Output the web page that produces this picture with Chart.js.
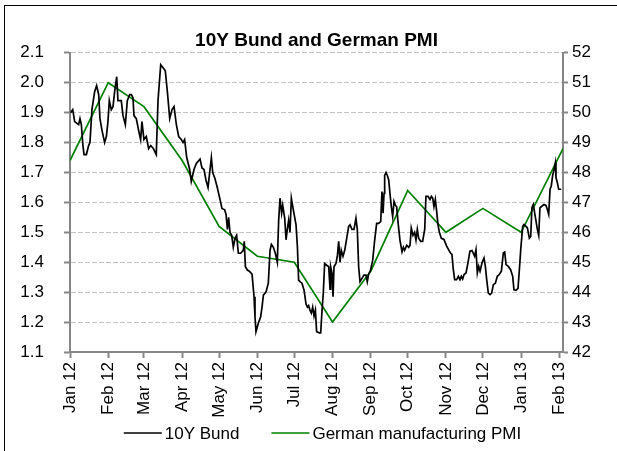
<!DOCTYPE html>
<html>
<head>
<meta charset="utf-8">
<script src="https://cdn.jsdelivr.net/npm/chart.js@4/dist/chart.umd.min.js"></script>
<style>
  html, body { margin: 0; padding: 0; background: #fff; }
  #wrap { position: relative; width: 617px; height: 451px; overflow: hidden; }
  #frame { position: absolute; left: 4px; top: 5px; width: 700px; height: 600px; border: 1px solid #000; }
  #chart { position: absolute; left: 0; top: 0; }
</style>
</head>
<body>
<div id="wrap">
  <div id="frame"></div>
  <canvas id="chart" width="617" height="451"></canvas>
</div>
<script>
// x values are days counted from 1 Jan 2012
const monthDays = [0, 31, 60, 91, 121, 152, 182, 213, 244, 274, 305, 335, 366, 397];
const monthLabels = ['Jan 12', 'Feb 12', 'Mar 12', 'Apr 12', 'May 12', 'Jun 12', 'Jul 12',
  'Aug 12', 'Sep 12', 'Oct 12', 'Nov 12', 'Dec 12', 'Jan 13', 'Feb 13'];

// German manufacturing PMI (right axis)
const pmiDays = [0, 31, 60, 91, 121, 152, 182, 213, 244, 274, 305, 335, 366, 400];
const pmiValues = [48.4, 51.0, 50.2, 48.4, 46.2, 45.2, 45.0, 43.0, 44.7, 47.4, 46.0, 46.8, 46.0, 48.8];

// 10Y Bund yield (left axis)
const bundDays = [
  0.5, 2.2, 3.8, 7.0, 8.1, 9.2, 10.5, 11.4, 13.3, 15.1, 16.2, 17.8, 20.0, 21.6, 23.3, 24.3,
  26.0, 28.1, 29.5, 30.8, 31.9, 33.5, 34.9, 36.2, 37.9, 38.9, 41.6, 43.0, 44.9, 46.5, 48.4,
  49.8, 51.1, 51.9, 53.8, 55.7, 57.3, 58.4, 60.0, 61.9, 63.8, 65.5, 67.6, 70.0, 71.4, 73.6,
  75.5, 77.3, 79.0, 80.9, 82.8, 84.4, 86.3, 88.2, 90.3, 91.7, 93.0, 94.7, 97.1, 98.4, 100.6,
  102.5, 105.5, 107.1, 108.7, 110.3, 112.0, 113.6, 114.7, 115.8, 117.6, 119.5, 121.7, 123.3,
  125.5, 126.6, 127.7, 128.7, 129.8, 131.2, 132.5, 133.9, 135.2, 136.6, 138.5, 140.6, 141.4,
  142.3, 143.9, 145.5, 147.7, 149.3, 150.1, 150.9, 152.8, 154.7, 155.8, 156.9, 159.0, 160.9,
  162.3, 163.4, 165.0, 166.6, 168.2, 169.3, 170.4, 171.7, 172.6, 174.2, 175.3, 176.3, 177.4,
  178.5, 179.6, 181.2, 183.4, 184.5, 185.5, 186.6, 188.2, 189.9, 191.5, 192.6, 193.6, 194.7,
  195.8, 196.9, 198.0, 199.1, 200.1, 202.3, 203.4, 204.5, 205.5, 206.6, 208.3, 209.9, 211.0,
  211.5, 212.6, 213.4, 214.2, 215.8, 216.9, 218.0, 219.1, 220.1, 221.5, 222.9, 224.5, 226.1,
  227.2, 228.8, 230.4, 232.0, 233.1, 234.2, 235.3, 236.9, 238.5, 240.2, 241.2, 242.3, 243.9,
  245.6, 247.2, 248.8, 250.4, 252.1, 253.1, 254.0, 254.8, 255.3, 256.4, 257.5, 258.6, 259.6,
  260.7, 261.8, 262.9, 264.0, 265.0, 266.1, 267.7, 269.4, 270.5, 271.5, 273.2, 274.8, 275.9,
  276.9, 278.3, 279.6, 280.7, 281.8, 282.9, 284.5, 286.1, 287.8, 288.8, 290.5, 292.1, 293.2,
  294.3, 295.3, 296.4, 297.5, 298.6, 299.7, 301.3, 303.4, 305.6, 307.8, 308.9, 309.9, 311.0,
  312.1, 313.7, 315.1, 316.4, 317.5, 318.6, 319.7, 321.3, 322.9, 324.5, 326.2, 327.2, 328.3,
  329.4, 330.5, 331.6, 332.7, 334.3, 335.9, 337.0, 338.1, 339.4, 340.8, 342.1, 343.5, 345.1,
  346.7, 348.3, 350.0, 351.6, 352.7, 353.8, 355.6, 357.5, 359.2, 360.2, 361.9, 363.5, 364.6,
  365.7, 367.3, 368.4, 370.0, 371.1, 372.7, 373.8, 374.8, 375.9, 377.6, 379.2, 380.3, 381.3,
  383.0, 384.6, 386.2, 387.3, 388.4, 389.5, 390.5, 391.6, 392.7, 393.8, 394.3, 395.4, 396.5,
  398.6
];
const bundYield = [
  1.90, 1.91, 1.87, 1.86, 1.88, 1.86, 1.79, 1.76, 1.76, 1.79, 1.80, 1.91, 1.97, 1.99, 1.96, 1.88,
  1.84, 1.80, 1.82, 1.87, 1.94, 1.91, 1.92, 1.97, 2.02, 1.94, 1.94, 1.89, 1.86, 1.94, 1.96,
  1.96, 1.95, 1.89, 1.88, 1.84, 1.81, 1.87, 1.81, 1.82, 1.78, 1.79, 1.78, 1.76, 1.94, 2.06,
  2.05, 2.04, 1.97, 1.88, 1.91, 1.92, 1.86, 1.82, 1.81, 1.80, 1.81, 1.75, 1.71, 1.67, 1.71,
  1.73, 1.745, 1.715, 1.71, 1.675, 1.65, 1.71, 1.75, 1.70, 1.68, 1.65, 1.61, 1.58,
  1.575, 1.56, 1.51, 1.55, 1.50, 1.49, 1.45, 1.48, 1.49, 1.43, 1.43, 1.44, 1.47,
  1.385, 1.374, 1.37, 1.36, 1.285, 1.218, 1.168, 1.196, 1.218, 1.25, 1.29, 1.30, 1.33,
  1.44, 1.46, 1.45, 1.43, 1.40, 1.54, 1.614, 1.564, 1.59, 1.547, 1.475, 1.51, 1.54,
  1.50, 1.614, 1.575, 1.525, 1.452, 1.34, 1.335, 1.33, 1.307, 1.26, 1.25, 1.255, 1.24,
  1.23, 1.25, 1.22, 1.24, 1.168, 1.164, 1.164, 1.24, 1.296, 1.396, 1.39, 1.385, 1.31,
  1.385, 1.363, 1.285, 1.385, 1.396, 1.42, 1.47, 1.40, 1.44, 1.42, 1.44, 1.48, 1.52,
  1.525, 1.51, 1.51, 1.547, 1.51, 1.385, 1.335, 1.346, 1.357, 1.357, 1.335, 1.36, 1.374,
  1.407, 1.474, 1.53, 1.53, 1.536, 1.636, 1.564, 1.63, 1.69, 1.70, 1.69, 1.675, 1.63,
  1.586, 1.553, 1.603, 1.59, 1.586, 1.536, 1.474, 1.435, 1.45, 1.44, 1.457, 1.45, 1.457,
  1.514, 1.49, 1.50, 1.474, 1.51, 1.48, 1.47, 1.47, 1.51, 1.62, 1.62, 1.61, 1.62,
  1.614, 1.586, 1.61, 1.57, 1.525, 1.50, 1.48, 1.476, 1.454, 1.437, 1.43, 1.426, 1.375,
  1.342, 1.342, 1.353, 1.342, 1.353, 1.344, 1.359, 1.364, 1.398, 1.437, 1.439, 1.43, 1.42,
  1.442, 1.364, 1.386, 1.37, 1.398, 1.414, 1.386, 1.342, 1.297, 1.292, 1.297, 1.325, 1.33,
  1.353, 1.359, 1.37, 1.431, 1.434, 1.392, 1.386, 1.375, 1.353, 1.308, 1.306, 1.313, 1.375,
  1.442, 1.52, 1.526, 1.52, 1.515, 1.48, 1.486, 1.582, 1.593, 1.55, 1.51, 1.49, 1.582,
  1.588, 1.593, 1.59, 1.576, 1.56, 1.644, 1.655, 1.69, 1.71, 1.733, 1.683, 1.666, 1.644,
  1.644
];

const AXIS = '#868686';
const FONT = "'Liberation Sans', Arial, sans-serif";

Chart.defaults.font.family = FONT;
Chart.defaults.color = '#000';

// legend drawn by hand: short line, text right next to it, wide gap between items
const lineLegend = {
  id: 'lineLegend',
  afterDraw(chart) {
    const { ctx, chartArea } = chart;
    const lineLen = 38, gap = 3, itemGap = 32;
    ctx.save();
    ctx.font = '17px ' + FONT;
    ctx.textBaseline = 'middle';
    const items = chart.data.datasets.map(ds => ({
      text: ds.label, color: ds.borderColor, width: ds.borderWidth,
      w: ctx.measureText(ds.label).width
    }));
    const total = items.reduce((s, it) => s + lineLen + gap + it.w, 0) + itemGap * (items.length - 1);
    let x = (chartArea.left + chartArea.right) / 2 + 6 - total / 2;
    const y = chartArea.bottom + 81;
    items.forEach(it => {
      ctx.strokeStyle = it.color;
      ctx.lineWidth = it.width;
      ctx.beginPath();
      ctx.moveTo(x, y);
      ctx.lineTo(x + lineLen, y);
      ctx.stroke();
      x += lineLen + gap;
      ctx.fillStyle = '#000';
      ctx.fillText(it.text, x, y + 1);
      x += it.w + itemGap;
    });
    ctx.restore();
  }
};

new Chart(document.getElementById('chart'), {
  type: 'line',
  data: {
    datasets: [
      {
        label: '10Y Bund',
        data: bundDays.map((d, i) => ({ x: d, y: bundYield[i] })),
        yAxisID: 'y',
        borderColor: '#000',
        borderWidth: 1.7,
        pointRadius: 0,
        tension: 0
      },
      {
        label: 'German manufacturing PMI',
        data: pmiDays.map((d, i) => ({ x: d, y: pmiValues[i] })),
        yAxisID: 'y2',
        borderColor: '#008000',
        borderWidth: 1.7,
        pointRadius: 0,
        tension: 0
      }
    ]
  },
  plugins: [lineLegend],
  options: {
    responsive: false,
    animation: false,
    devicePixelRatio: 1,
    layout: { padding: 0 },
    plugins: {
      title: {
        display: true,
        text: '10Y Bund and German PMI',
        fullSize: false,
        color: '#000',
        font: { family: FONT, size: 19, weight: 'bold' },
        padding: { top: 29, bottom: 1 }
      },
      legend: { display: false },
      tooltip: { enabled: false }
    },
    scales: {
      x: {
        type: 'linear',
        min: 0,
        max: 400,
        afterBuildTicks: s => { s.ticks = monthDays.map(v => ({ value: v })); },
        afterFit: s => { s.height = 99; },
        ticks: {
          autoSkip: false,
          maxRotation: 90,
          minRotation: 90,
          padding: 4,
          font: { size: 17 },
          callback: (v, i) => monthLabels[i]
        },
        grid: { drawOnChartArea: false, tickLength: 6, tickColor: AXIS, tickWidth: 2 },
        border: { color: AXIS, width: 2 }
      },
      y: {
        position: 'left',
        min: 1.1,
        max: 2.1,
        afterFit: s => { s.width = 70; },
        ticks: {
          stepSize: 0.1,
          padding: 20,
          font: { size: 17 },
          callback: v => v.toFixed(1)
        },
        grid: { color: '#c3c3c3', lineWidth: 1, tickLength: 6, tickColor: AXIS, tickWidth: 2 },
        border: { color: AXIS, width: 2, dash: [5, 2] }
      },
      y2: {
        position: 'right',
        min: 42,
        max: 52,
        afterFit: s => { s.width = 54; },
        ticks: { stepSize: 1, padding: 4, font: { size: 17 } },
        grid: { drawOnChartArea: false, tickLength: 5, tickColor: AXIS, tickWidth: 2 },
        border: { color: AXIS, width: 2 }
      }
    }
  }
});
</script>
</body>
</html>
